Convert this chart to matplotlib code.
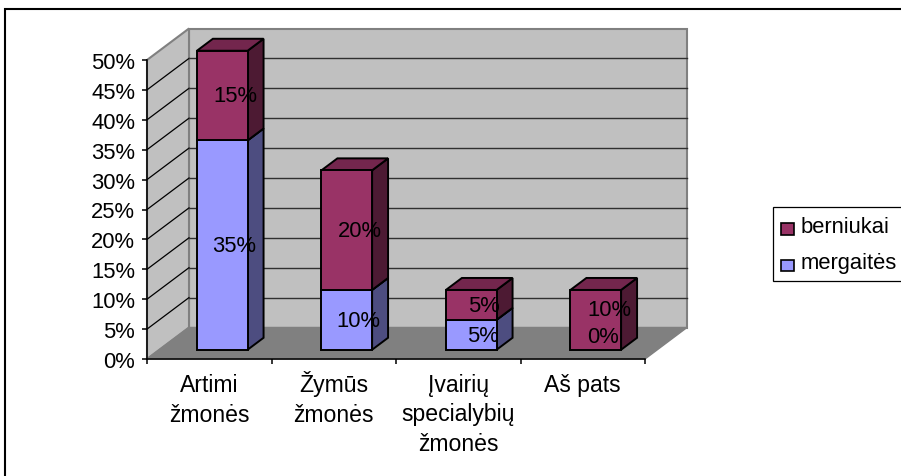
import numpy as np
import matplotlib
matplotlib.use("Agg")
from matplotlib import pyplot as plt
from matplotlib.patches import Polygon, Rectangle

plt.rcParams["font.family"] = ["Liberation Sans", "DejaVu Sans"]
plt.rcParams["font.size"] = 15.8

categories = ["Artimi\nžmonės", "Žymūs\nžmonės", "Įvairių\nspecialybių\nžmonės", "Aš pats"]
mergaites = [35, 10, 5, 0]
berniukai = [15, 20, 5, 10]
y_ticks = [0, 5, 10, 15, 20, 25, 30, 35, 40, 45, 50]

W, H = 901, 477
# depth of the fake 3d box in data units
DX = 42 / 124.5
DY = 31.5 / 5.98
BAR_W = 0.407
F0, F1 = 0.31, 0.69  # where the bars sit inside the depth
LIFT = 1.55  # how far up the floor the bar fronts start


def shade(c, f):
    return tuple(v * f for v in matplotlib.colors.to_rgb(c))


def draw_bar(ax, x, y0, y1, color, z):
    x0 = x - BAR_W / 2 + F0 * DX
    x1 = x + BAR_W / 2 + F0 * DX
    b0 = y0 + LIFT
    b1 = y1 + LIFT
    ox = (F1 - F0) * DX
    oy = (F1 - F0) * DY
    kw = dict(edgecolor="black", linewidth=1.4, clip_on=False, joinstyle="miter", zorder=z)
    ax.add_patch(Polygon([(x1, b0), (x1 + ox, b0 + oy), (x1 + ox, b1 + oy), (x1, b1)], facecolor=shade(color, 0.5), **kw))
    ax.add_patch(Polygon([(x0, b1), (x1, b1), (x1 + ox, b1 + oy), (x0 + ox, b1 + oy)], facecolor=shade(color, 0.75), **kw))
    ax.add_patch(Rectangle((x0, b0), x1 - x0, b1 - b0, facecolor=color, **kw))


def fig_rect(fig, x0, y0, x1, y1, face, lw, z):
    # pixel box (y from the top) on the figure
    r = Rectangle((x0 / W, 1 - y1 / H), (x1 - x0) / W, (y1 - y0) / H, transform=fig.transFigure,
                  facecolor=face, edgecolor="black", linewidth=lw, zorder=z)
    fig.patches.append(r)


fig = plt.figure(figsize=(W / 100, H / 100), dpi=100)
# outer frame only shows on the left and top
fig_rect(fig, 5, 9.5, W + 20, H + 20, "white", 1.5, -5)
ax = fig.add_axes([147 / W, 1 - 360 / H, 498 / W, 299 / H])
ax.set_xlim(0, 4)
ax.set_ylim(0, 50)
ax.patch.set_visible(False)
for s in ["top", "right"]:
    ax.spines[s].set_visible(False)
ax.spines["left"].set_linewidth(1.1)
ax.spines["bottom"].set_linewidth(1.1)

# walls and floor
wall = "#c0c0c0"
edge = "#808080"
ax.add_patch(Polygon([(DX, DY), (4 + DX, DY), (4 + DX, 50 + DY), (DX, 50 + DY)], facecolor=wall, edgecolor=edge, linewidth=1.5, clip_on=False, zorder=1))
ax.add_patch(Polygon([(0, 0), (DX, DY), (DX, 50 + DY), (0, 50)], facecolor=wall, edgecolor=edge, linewidth=1.5, clip_on=False, zorder=1))
ax.add_patch(Polygon([(0, 0), (4, 0), (4 + DX, DY), (DX, DY)], facecolor=edge, edgecolor=edge, linewidth=1, clip_on=False, zorder=1))
for t in y_ticks[1:-1]:
    ax.plot([0, DX], [t, t + DY], color="black", lw=0.9, clip_on=False, zorder=2)
    ax.plot([DX, 4 + DX], [t + DY, t + DY], color="#303030", lw=1.0, clip_on=False, zorder=2)

# bars
girl_c = "#9999ff"
boy_c = "#993366"
for i in range(len(categories)):
    if mergaites[i] > 0:
        draw_bar(ax, i + 0.5, 0, mergaites[i], girl_c, 4 + i)
    draw_bar(ax, i + 0.5, mergaites[i], mergaites[i] + berniukai[i], boy_c, 4 + i)

# data labels, the last column sits a bit off in the original
for i in range(len(categories)):
    g_y = mergaites[i] / 2 + 1.5
    b_y = mergaites[i] + berniukai[i] / 2 + 1.5
    g_x = i + 0.7
    if i == 3:
        g_y += 2.3
        b_y += 1.8
        g_x -= 0.04
    ax.text(g_x, g_y, "%d%%" % mergaites[i], ha="center", va="center", zorder=20, clip_on=False)
    ax.text(i + 0.71, b_y, "%d%%" % berniukai[i], ha="center", va="center", zorder=20, clip_on=False)

ax.set_yticks(y_ticks)
ax.set_yticklabels(["%d%%" % t for t in y_ticks])
ax.set_xticks(range(5))
ax.set_xticklabels([])
ax.tick_params(axis="both", which="major", direction="out", length=3.5, width=1.1)
ax.tick_params(axis="y", which="major", pad=5)

# category labels line by line so every line keeps its own baseline
for i, cat in enumerate(categories):
    for j, line in enumerate(cat.split("\n")):
        ax.annotate(line, xy=(i + 0.5, 0), xycoords=("data", "axes fraction"),
                    xytext=(0, -(32 + 29.5 * j) * 0.72), textcoords="offset points",
                    ha="center", va="baseline", annotation_clip=False, fontsize=16.6)

# legend box runs off the right side
fig_rect(fig, 772.5, 208, W + 20, 282, "white", 0.9, 2)
fig_rect(fig, 781, 224, 794, 236, boy_c, 1.2, 3)
fig_rect(fig, 781, 261, 794, 272, girl_c, 1.2, 3)
fig.text(800.5 / W, 1 - 228 / H, "berniukai", va="center", ha="left")
fig.text(800.5 / W, 1 - 264 / H, "mergaitės", va="center", ha="left")

fig.savefig("out.png", dpi=100)
